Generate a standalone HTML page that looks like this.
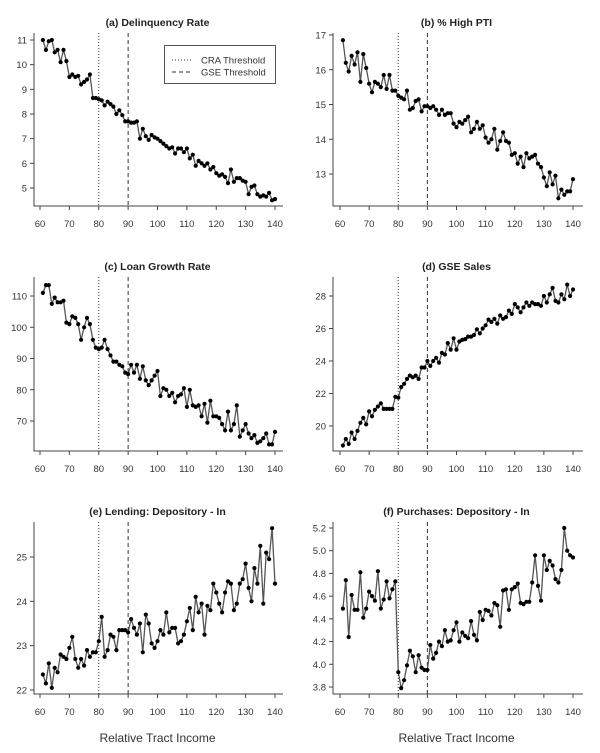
<!DOCTYPE html>
<html><head><meta charset="utf-8"><style>
html,body{margin:0;padding:0;background:#fff;}
svg{display:block;font-family:"Liberation Sans",sans-serif;}
</style></head><body>
<svg id="s" width="600" height="753" xmlns="http://www.w3.org/2000/svg"></svg>
<script>
const D={
a:[11.0,10.6,10.95,11.0,10.5,10.6,10.1,10.6,10.15,9.5,9.6,9.5,9.55,9.2,9.3,9.4,9.6,8.65,8.65,8.6,8.55,8.35,8.5,8.4,8.3,8.0,8.15,7.95,7.7,7.7,7.65,7.65,7.7,7.0,7.4,7.1,6.95,7.15,7.05,7.0,6.9,6.8,6.7,6.6,6.65,6.4,6.6,6.6,6.45,6.6,6.2,6.35,5.9,6.1,6.0,5.9,6.0,5.75,5.85,5.6,5.5,5.55,5.45,5.2,5.75,5.25,5.4,5.4,5.3,5.25,4.75,5.05,5.1,4.75,4.65,4.7,4.65,4.8,4.5,4.55],
b:[16.85,16.2,15.95,16.4,16.15,16.5,15.65,16.45,16.05,15.6,15.35,15.65,15.6,15.5,15.85,15.45,15.85,15.4,15.4,15.25,15.2,15.15,15.4,14.85,14.9,15.1,15.15,14.8,14.95,14.95,14.9,14.95,14.85,14.7,14.85,14.7,14.75,14.75,14.45,14.35,14.5,14.45,14.55,14.65,14.2,14.3,14.5,14.3,14.4,14.05,13.9,14.0,14.3,13.7,13.95,14.2,13.95,13.9,13.55,13.6,13.3,13.5,13.2,13.6,13.45,13.5,13.55,13.3,13.2,12.9,12.65,13.05,12.7,12.95,12.3,12.55,12.4,12.5,12.5,12.85],
c:[111,113.5,113.5,107.5,109.5,108,108,108.5,101.5,101,103.5,103,101,96,100,103,101,96,93.5,93,93.5,96,93,91,89,89,88,87.5,85.5,85,88,85.5,88,83.5,87.5,83,81.5,83,84.5,86,78,80.5,80,78,79,76,78,78.5,80.5,74.5,80,75,74.5,75,71.5,75.5,69.5,76.5,71.5,71.5,71,69,67,73,67,69,75,65,67,69,66,64.5,65.5,63,63.5,64.5,66,62.5,62.5,66.5],
d:[18.8,19.2,18.9,19.6,19.2,19.7,20.2,20.5,20.1,20.9,20.6,21.0,21.2,21.4,21.05,21.05,21.05,21.05,21.8,21.75,22.4,22.6,22.9,23.1,23.0,23.1,22.9,23.6,23.6,24.0,23.7,24.0,24.2,23.9,24.5,24.4,25.1,24.7,25.4,24.7,25.2,25.3,25.35,25.5,25.5,25.6,25.95,25.7,26.0,26.2,26.55,26.4,26.6,26.3,26.8,26.6,26.7,27.1,26.9,27.5,27.3,27.0,27.3,27.6,27.4,27.6,27.5,27.5,27.4,28.0,27.6,28.1,28.5,27.7,27.6,28.1,27.8,28.7,28.0,28.4],
e:[22.35,22.15,22.6,22.05,22.5,22.4,22.8,22.75,22.7,22.95,23.2,22.7,22.5,22.7,22.55,22.9,22.75,22.85,22.85,23.1,23.65,22.75,22.9,23.25,23.2,22.9,23.35,23.35,23.35,23.3,23.6,23.4,23.25,23.5,22.85,23.7,23.5,23.05,22.95,23.1,23.35,23.25,23.75,23.3,23.4,23.4,23.05,23.1,23.25,23.55,23.85,23.35,24.1,23.75,23.95,23.25,23.9,23.8,24.4,24.2,23.95,23.75,24.2,24.45,24.4,23.8,23.95,24.4,24.5,24.85,24.3,24.0,24.75,24.4,25.25,23.95,25.1,24.95,25.65,24.4],
f:[4.49,4.74,4.24,4.61,4.48,4.48,4.81,4.41,4.49,4.64,4.6,4.56,4.82,4.49,4.57,4.73,4.58,4.66,4.73,3.93,3.79,3.86,3.99,4.12,4.07,3.93,4.08,3.97,3.95,3.95,4.17,4.05,4.1,4.2,4.16,4.3,4.2,4.21,4.3,4.37,4.2,4.28,4.25,4.23,4.38,4.26,4.21,4.46,4.39,4.48,4.47,4.43,4.54,4.52,4.33,4.65,4.66,4.48,4.66,4.68,4.71,4.54,4.53,4.55,4.55,4.72,4.96,4.69,4.56,4.96,4.83,4.91,4.87,4.75,4.72,4.83,5.2,5.0,4.96,4.94]};
const P=[
{k:'a',t:'(a) Delinquency Rate',col:0,top:33,bot:206,ty:22,m:[11,40,5,188],ticks:[5,6,7,8,9,10,11],f:v=>v},
{k:'b',t:'(b) % High PTI',col:1,top:33,bot:206,ty:22,m:[17,35,13,174],ticks:[13,14,15,16,17],f:v=>v},
{k:'c',t:'(c) Loan Growth Rate',col:0,top:277,bot:451,ty:266,m:[110,296,70,421],ticks:[70,80,90,100,110],f:v=>v},
{k:'d',t:'(d) GSE Sales',col:1,top:277,bot:451,ty:266,m:[28,296,20,426],ticks:[20,22,24,26,28],f:v=>v},
{k:'e',t:'(e) Lending: Depository - In',col:0,top:522,bot:694,ty:511,m:[25,557,22,690],ticks:[22,23,24,25],f:v=>v},
{k:'f',t:'(f) Purchases: Depository - In',col:1,top:522,bot:694,ty:511,m:[5.2,528,3.8,687],ticks:[3.8,4.0,4.2,4.4,4.6,4.8,5.0,5.2],f:v=>v.toFixed(1)}];
let h='';
for(const p of P){
 const ax=p.col?333:34, rx=p.col?583:283, x0=p.col?340:40, x1=p.col?573:275;
 const X=v=>x0+(v-60)*(x1-x0)/80;
 const Y=v=>p.m[1]+(v-p.m[0])*(p.m[3]-p.m[1])/(p.m[2]-p.m[0]);
 const cx=(x0+x1)/2;
 h+=`<text x="${cx}" y="${p.ty+4}" font-size="10.5" font-weight="bold" text-anchor="middle" fill="#222">${p.t}</text>`;
 h+=`<path d="M${ax} ${p.top}V${p.bot}H${rx}" stroke="#444" stroke-width="1" fill="none"/>`;
 for(let v=60;v<=140;v+=10){h+=`<line x1="${X(v)}" y1="${p.bot}" x2="${X(v)}" y2="${p.bot+4}" stroke="#444"/><text x="${X(v)}" y="${p.bot+21}" font-size="9.5" text-anchor="middle" fill="#333">${v}</text>`;}
 for(const v of p.ticks){const y=Y(v);h+=`<line x1="${ax-4}" y1="${y}" x2="${ax}" y2="${y}" stroke="#444"/><text x="${ax-7}" y="${y+3.5}" font-size="9.5" text-anchor="end" fill="#333">${p.f(v)}</text>`;}
 h+=`<line x1="${X(80)}" y1="${p.top}" x2="${X(80)}" y2="${p.bot}" stroke="#333" stroke-dasharray="1,2"/>`;
 h+=`<line x1="${X(90)}" y1="${p.top}" x2="${X(90)}" y2="${p.bot}" stroke="#333" stroke-dasharray="4,3"/>`;
 const d=D[p.k];let pts=d.map((v,i)=>`${X(61+i).toFixed(1)},${Y(v).toFixed(1)}`);
 h+=`<polyline points="${pts.join(' ')}" fill="none" stroke="#555" stroke-width="1.3"/>`;
 for(const q of pts){const [a,b]=q.split(',');h+=`<circle cx="${a}" cy="${b}" r="2.1" fill="#000"/>`;}
 if(p.bot==694)h+=`<text x="${cx}" y="742" font-size="12" text-anchor="middle" fill="#333">Relative Tract Income</text>`;
}
h+=`<rect x="164.5" y="45.5" width="111" height="38" fill="#fff" stroke="#555"/>`;
h+=`<line x1="172" y1="60" x2="191" y2="60" stroke="#333" stroke-dasharray="1,2"/><text x="201" y="63.5" font-size="9.5" fill="#333">CRA Threshold</text>`;
h+=`<line x1="172" y1="72" x2="191" y2="72" stroke="#333" stroke-dasharray="4,3"/><text x="201" y="75.5" font-size="9.5" fill="#333">GSE Threshold</text>`;
document.getElementById('s').innerHTML=h;
</script>
</body></html>
